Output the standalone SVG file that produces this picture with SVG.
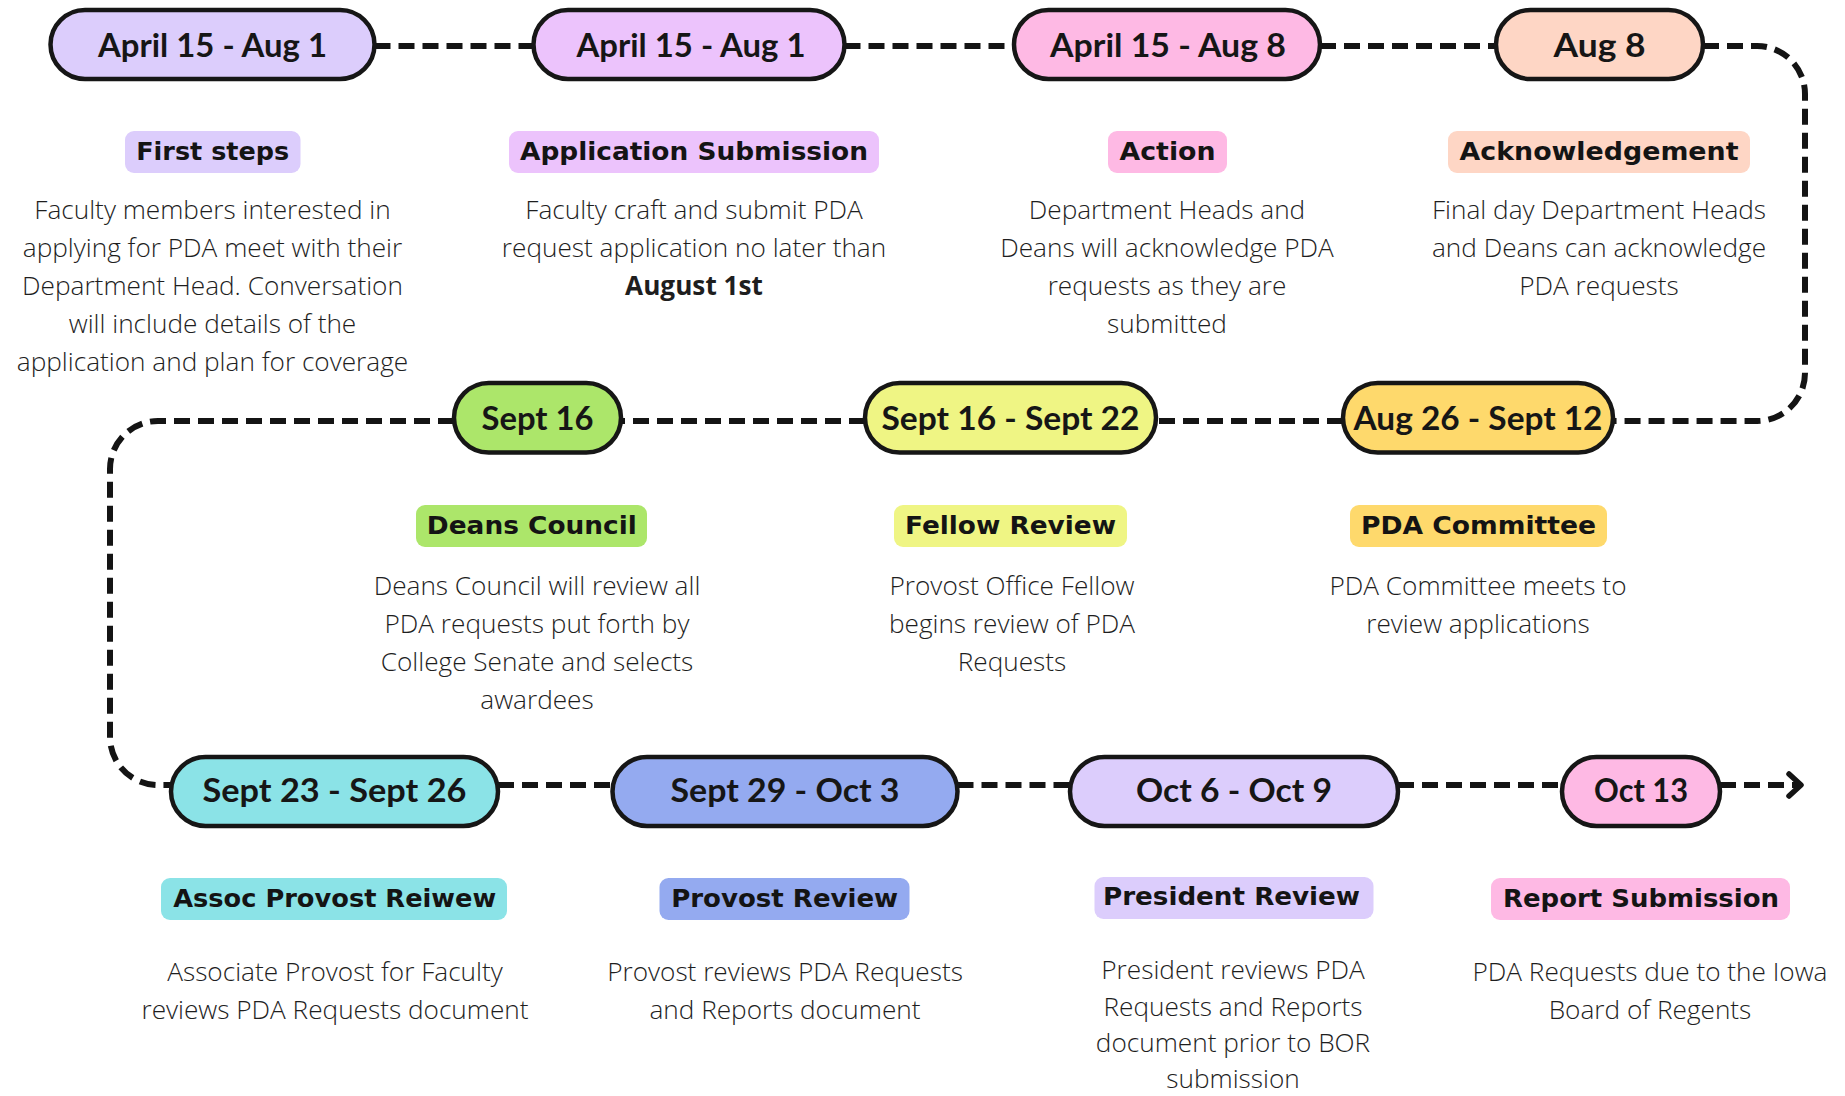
<svg xmlns="http://www.w3.org/2000/svg" width="1845" height="1096" viewBox="0 0 1845 1096">
  <style>
    .pill { stroke: #161616; stroke-width: 4.5; }
    .plabel { font-family: "Lato", "Liberation Sans", sans-serif; font-weight: 700; font-size: 32px; fill: #161616; text-anchor: middle; }
    .hbox { stroke: none; }
    .htext { font-family: "DejaVu Sans", "Liberation Sans", sans-serif; font-weight: 700; font-size: 24px; fill: #141414; text-anchor: middle; }
    .body { font-family: "Open Sans", "Liberation Sans", sans-serif; font-weight: 300; font-size: 26.2px; fill: #1e1e1e; text-anchor: middle; }
    .bold { font-weight: 700; }
    .conn { fill: none; stroke: #141414; stroke-width: 6; stroke-dasharray: 16 8; }
  </style>
  <defs>
    <marker id="chev" markerUnits="userSpaceOnUse" viewBox="0 0 20 28" markerWidth="20" markerHeight="28" refX="16" refY="14" orient="auto">
      <path d="M4 3 L16 14 L4 25" fill="none" stroke="#141414" stroke-width="5.5" stroke-linecap="round" stroke-linejoin="round" stroke-dasharray="none"/>
    </marker>
  </defs>
  <rect width="1845" height="1096" fill="#ffffff"/>

  <g id="connectors">
    <path class="conn" d="M374.5 46 H533.5"/>
    <path class="conn" d="M844.5 46 H1014"/>
    <path class="conn" d="M1320 46 H1496"/>
    <path class="conn" d="M1703 46 H1757 A48 48 0 0 1 1805 94 V373 A48 48 0 0 1 1757 421 H1613"/>
    <path class="conn" d="M1343 421 H1156"/>
    <path class="conn" d="M865 421 H621"/>
    <path class="conn" d="M454 421 H158 A48 48 0 0 0 110 469 V737 A48 48 0 0 0 158 785 H171"/>
    <path class="conn" d="M498 785 H612.5"/>
    <path class="conn" d="M957.5 785 H1070"/>
    <path class="conn" d="M1398 785 H1562"/>
    <path class="conn" d="M1720 785 H1801" marker-end="url(#chev)"/>
  </g>

  <g id="first-steps">
    <rect class="pill" x="50.5" y="10" width="324" height="69" rx="34.5" fill="#dccdfc"/>
    <text class="plabel" x="212.5" y="56.5" textLength="229" lengthAdjust="spacingAndGlyphs">April 15 - Aug 1</text>
    <rect class="hbox" x="125" y="131" width="175.5" height="42" rx="9" fill="#dccdfc"/>
    <text class="htext" x="212.7" y="160" textLength="153" lengthAdjust="spacingAndGlyphs">First steps</text>
    <text class="body" x="212.5" y="219">Faculty members interested in</text>
    <text class="body" x="212.5" y="257">applying for PDA meet with their</text>
    <text class="body" x="212.5" y="295">Department Head. Conversation</text>
    <text class="body" x="212.5" y="333">will include details of the</text>
    <text class="body" x="212.5" y="371">application and plan for coverage</text>
  </g>

  <g id="application-submission">
    <rect class="pill" x="533.5" y="10" width="311" height="69" rx="34.5" fill="#ecc3fc"/>
    <text class="plabel" x="691" y="56.5" textLength="229" lengthAdjust="spacingAndGlyphs">April 15 - Aug 1</text>
    <rect class="hbox" x="509" y="131" width="370" height="42" rx="9" fill="#ecc3fc"/>
    <text class="htext" x="694" y="160" textLength="348" lengthAdjust="spacingAndGlyphs">Application Submission</text>
    <text class="body" x="694" y="219">Faculty craft and submit PDA</text>
    <text class="body" x="694" y="257">request application no later than</text>
    <text class="body bold" x="694" y="295">August 1st</text>
  </g>

  <g id="action">
    <rect class="pill" x="1014" y="10" width="306" height="69" rx="34.5" fill="#feb9e4"/>
    <text class="plabel" x="1168" y="56.5" textLength="236" lengthAdjust="spacingAndGlyphs">April 15 - Aug 8</text>
    <rect class="hbox" x="1108" y="131" width="119" height="42" rx="9" fill="#feb9e4"/>
    <text class="htext" x="1167.5" y="160" textLength="96" lengthAdjust="spacingAndGlyphs">Action</text>
    <text class="body" x="1167" y="219">Department Heads and</text>
    <text class="body" x="1167" y="257">Deans will acknowledge PDA</text>
    <text class="body" x="1167" y="295">requests as they are</text>
    <text class="body" x="1167" y="333">submitted</text>
  </g>

  <g id="acknowledgement">
    <rect class="pill" x="1496" y="10" width="207" height="69" rx="34.5" fill="#fed6c5"/>
    <text class="plabel" x="1599.5" y="56.5" textLength="92" lengthAdjust="spacingAndGlyphs">Aug 8</text>
    <rect class="hbox" x="1448" y="131" width="302" height="42" rx="9" fill="#fed6c5"/>
    <text class="htext" x="1599" y="160" textLength="279" lengthAdjust="spacingAndGlyphs">Acknowledgement</text>
    <text class="body" x="1599" y="219">Final day Department Heads</text>
    <text class="body" x="1599" y="257">and Deans can acknowledge</text>
    <text class="body" x="1599" y="295">PDA requests</text>
  </g>

  <g id="pda-committee">
    <rect class="pill" x="1343" y="383" width="270" height="69.5" rx="34.75" fill="#fed96c"/>
    <text class="plabel" x="1478" y="429.5" textLength="249" lengthAdjust="spacingAndGlyphs">Aug 26 - Sept 12</text>
    <rect class="hbox" x="1350" y="505" width="257" height="42" rx="9" fill="#fed96c"/>
    <text class="htext" x="1478.5" y="534" textLength="235" lengthAdjust="spacingAndGlyphs">PDA Committee</text>
    <text class="body" x="1478" y="595">PDA Committee meets to</text>
    <text class="body" x="1478" y="633">review applications</text>
  </g>

  <g id="fellow-review">
    <rect class="pill" x="865" y="383" width="291" height="69.5" rx="34.75" fill="#eff584"/>
    <text class="plabel" x="1010.5" y="429.5" textLength="258" lengthAdjust="spacingAndGlyphs">Sept 16 - Sept 22</text>
    <rect class="hbox" x="894" y="505" width="233" height="42" rx="9" fill="#eff584"/>
    <text class="htext" x="1010.5" y="534" textLength="211" lengthAdjust="spacingAndGlyphs">Fellow Review</text>
    <text class="body" x="1012" y="595">Provost Office Fellow</text>
    <text class="body" x="1012" y="633">begins review of PDA</text>
    <text class="body" x="1012" y="671">Requests</text>
  </g>

  <g id="deans-council">
    <rect class="pill" x="454" y="383" width="167" height="69.5" rx="34.75" fill="#ace66a"/>
    <text class="plabel" x="537.5" y="429.5" textLength="112" lengthAdjust="spacingAndGlyphs">Sept 16</text>
    <rect class="hbox" x="416" y="505" width="231" height="42" rx="9" fill="#ace66a"/>
    <text class="htext" x="531.8" y="534" textLength="210" lengthAdjust="spacingAndGlyphs">Deans Council</text>
    <text class="body" x="537" y="595">Deans Council will review all</text>
    <text class="body" x="537" y="633">PDA requests put forth by</text>
    <text class="body" x="537" y="671">College Senate and selects</text>
    <text class="body" x="537" y="709">awardees</text>
  </g>

  <g id="assoc-provost-review">
    <rect class="pill" x="171" y="757" width="327" height="69" rx="34.5" fill="#8be3e7"/>
    <text class="plabel" x="334.5" y="802" textLength="264" lengthAdjust="spacingAndGlyphs">Sept 23 - Sept 26</text>
    <rect class="hbox" x="161" y="878" width="346" height="42" rx="9" fill="#8be3e7"/>
    <text class="htext" x="334.7" y="906.5" textLength="323" lengthAdjust="spacingAndGlyphs">Assoc Provost Reiwew</text>
    <text class="body" x="335" y="981">Associate Provost for Faculty</text>
    <text class="body" x="335" y="1019">reviews PDA Requests document</text>
  </g>

  <g id="provost-review">
    <rect class="pill" x="612.5" y="757" width="345" height="69" rx="34.5" fill="#94aaf0"/>
    <text class="plabel" x="785" y="802" textLength="229" lengthAdjust="spacingAndGlyphs">Sept 29 - Oct 3</text>
    <rect class="hbox" x="659.5" y="878" width="250" height="42" rx="9" fill="#94aaf0"/>
    <text class="htext" x="784.7" y="906.5" textLength="227" lengthAdjust="spacingAndGlyphs">Provost Review</text>
    <text class="body" x="785" y="981">Provost reviews PDA Requests</text>
    <text class="body" x="785" y="1019">and Reports document</text>
  </g>

  <g id="president-review">
    <rect class="pill" x="1070" y="757" width="328" height="69" rx="34.5" fill="#dccdfc"/>
    <text class="plabel" x="1234" y="802" textLength="196" lengthAdjust="spacingAndGlyphs">Oct 6 - Oct 9</text>
    <rect class="hbox" x="1094.5" y="877" width="279" height="42" rx="9" fill="#dccdfc"/>
    <text class="htext" x="1231.5" y="905" textLength="257" lengthAdjust="spacingAndGlyphs">President Review</text>
    <text class="body" x="1233" y="978.5">President reviews PDA</text>
    <text class="body" x="1233" y="1015.5">Requests and Reports</text>
    <text class="body" x="1233" y="1052">document prior to BOR</text>
    <text class="body" x="1233" y="1088">submission</text>
  </g>

  <g id="report-submission">
    <rect class="pill" x="1562" y="757" width="158" height="69" rx="34.5" fill="#feb9e4"/>
    <text class="plabel" x="1641" y="802" textLength="94" lengthAdjust="spacingAndGlyphs">Oct 13</text>
    <rect class="hbox" x="1491" y="878" width="299" height="42" rx="9" fill="#feb9e4"/>
    <text class="htext" x="1641" y="906.5" textLength="276" lengthAdjust="spacingAndGlyphs">Report Submission</text>
    <text class="body" x="1650" y="981">PDA Requests due to the Iowa</text>
    <text class="body" x="1650" y="1018.5">Board of Regents</text>
  </g>
</svg>
